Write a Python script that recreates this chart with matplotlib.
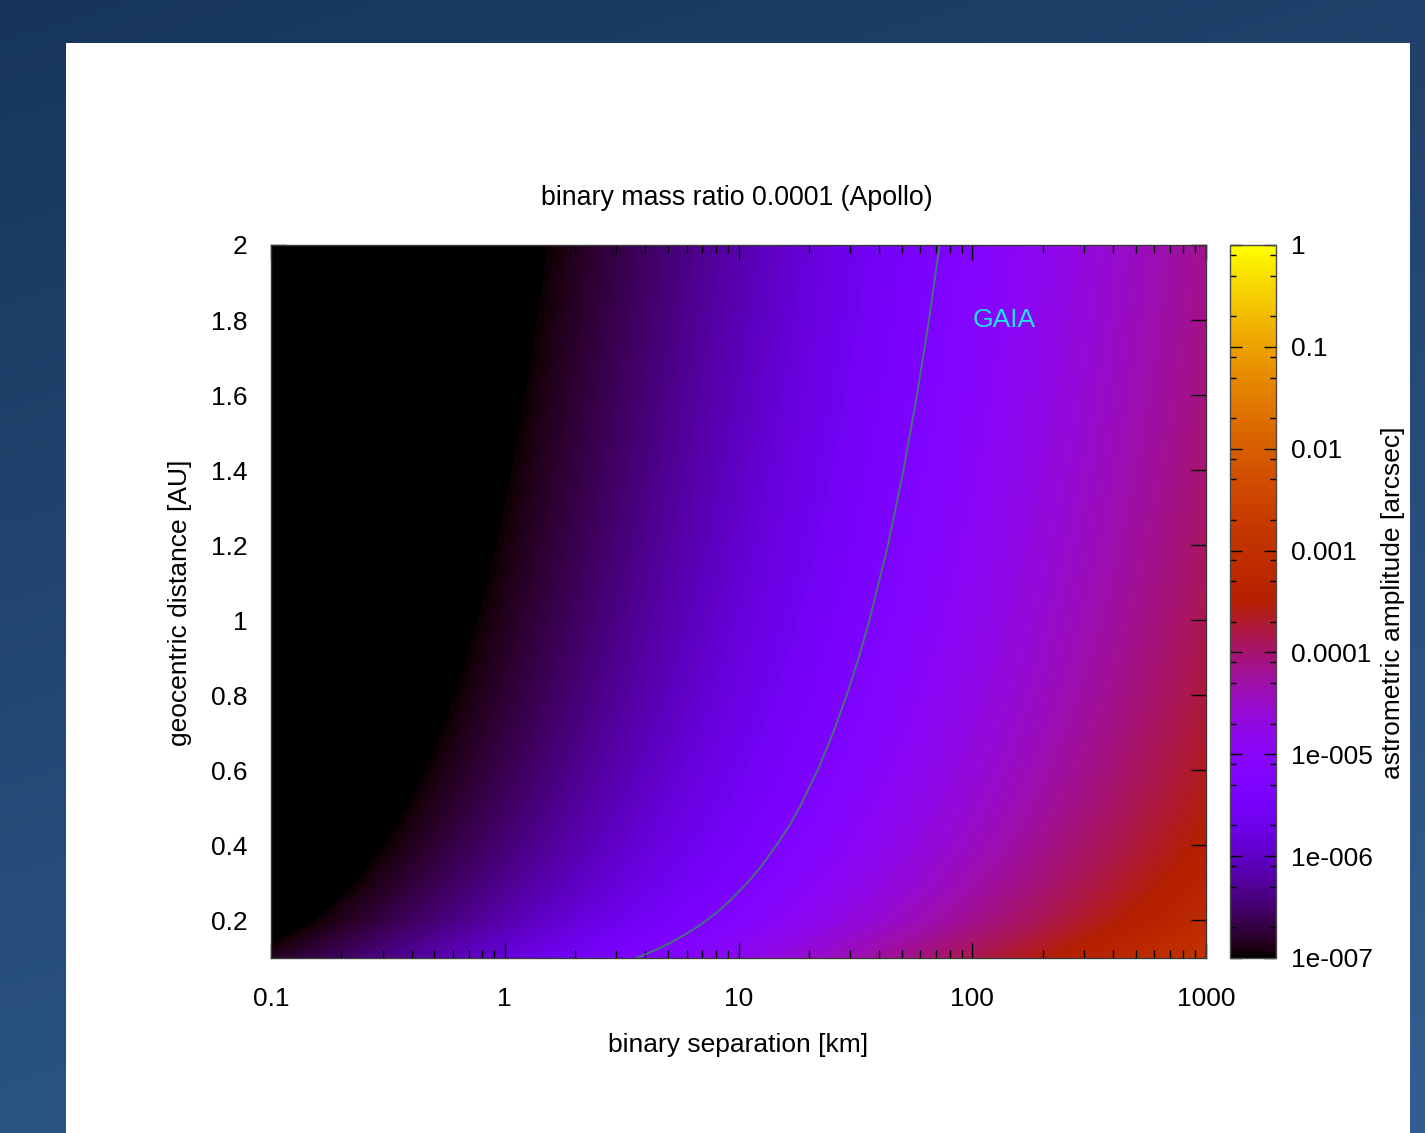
import numpy as np
import matplotlib
matplotlib.use('Agg')
import matplotlib.pyplot as plt
from matplotlib.colors import LogNorm, Normalize
from matplotlib.cm import ScalarMappable
from matplotlib.patches import Rectangle
from matplotlib.ticker import LogLocator, NullFormatter

plt.rcParams['font.family'] = ['Liberation Sans', 'DejaVu Sans']

# ---------------- data ----------------
separation_km = [0.1, 1, 10, 100, 1000]
distance_au = [0.1, 0.2, 0.3, 0.4, 0.5, 0.6, 0.7, 0.8, 0.9, 1.0,
               1.1, 1.2, 1.3, 1.4, 1.5, 1.6, 1.7, 1.8, 1.9, 2.0]
# astrometric amplitude [arcsec], rows = distance, columns = separation
amplitude_arcsec = [
    [1.38e-7, 1.38e-6, 1.38e-5, 1.38e-4, 1.38e-3],
    [6.89e-8, 6.89e-7, 6.89e-6, 6.89e-5, 6.89e-4],
    [4.60e-8, 4.60e-7, 4.60e-6, 4.60e-5, 4.60e-4],
    [3.45e-8, 3.45e-7, 3.45e-6, 3.45e-5, 3.45e-4],
    [2.76e-8, 2.76e-7, 2.76e-6, 2.76e-5, 2.76e-4],
    [2.30e-8, 2.30e-7, 2.30e-6, 2.30e-5, 2.30e-4],
    [1.97e-8, 1.97e-7, 1.97e-6, 1.97e-5, 1.97e-4],
    [1.72e-8, 1.72e-7, 1.72e-6, 1.72e-5, 1.72e-4],
    [1.53e-8, 1.53e-7, 1.53e-6, 1.53e-5, 1.53e-4],
    [1.38e-8, 1.38e-7, 1.38e-6, 1.38e-5, 1.38e-4],
    [1.25e-8, 1.25e-7, 1.25e-6, 1.25e-5, 1.25e-4],
    [1.15e-8, 1.15e-7, 1.15e-6, 1.15e-5, 1.15e-4],
    [1.06e-8, 1.06e-7, 1.06e-6, 1.06e-5, 1.06e-4],
    [9.85e-9, 9.85e-8, 9.85e-7, 9.85e-6, 9.85e-5],
    [9.19e-9, 9.19e-8, 9.19e-7, 9.19e-6, 9.19e-5],
    [8.62e-9, 8.62e-8, 8.62e-7, 8.62e-6, 8.62e-5],
    [8.11e-9, 8.11e-8, 8.11e-7, 8.11e-6, 8.11e-5],
    [7.66e-9, 7.66e-8, 7.66e-7, 7.66e-6, 7.66e-5],
    [7.26e-9, 7.26e-8, 7.26e-7, 7.26e-6, 7.26e-5],
    [6.89e-9, 6.89e-8, 6.89e-7, 6.89e-6, 6.89e-5],
]

# GAIA detection limit curve
gaia_distance_au = [0.1, 0.11, 0.125, 0.14, 0.16, 0.18, 0.2, 0.225, 0.25, 0.3, 0.35,
                    0.4, 0.45, 0.5, 0.6, 0.7, 0.8, 0.9, 1.0, 1.2, 1.4, 1.6, 1.8, 2.0]
gaia_separation_km = [3.65, 4.0, 4.55, 5.1, 5.8, 6.55, 7.3, 8.2, 9.1, 10.9, 12.7,
                      14.5, 16.4, 18.2, 21.8, 25.4, 29.0, 32.7, 36.3, 43.6, 50.8,
                      58.0, 65.3, 72.5]

x_ticks = [0.1, 1, 10, 100, 1000]
x_tick_labels = ['0.1', '1', '10', '100', '1000']
y_ticks = [0.2, 0.4, 0.6, 0.8, 1.0, 1.2, 1.4, 1.6, 1.8, 2.0]
y_tick_labels = ['0.2', '0.4', '0.6', '0.8', '1', '1.2', '1.4', '1.6', '1.8', '2']
cb_ticks = [1e-7, 1e-6, 1e-5, 1e-4, 1e-3, 1e-2, 1e-1, 1]
cb_tick_labels = ['1e-007', '1e-006', '1e-005', '0.0001', '0.001', '0.01', '0.1', '1']

title = 'binary mass ratio 0.0001 (Apollo)'
xlabel = 'binary separation [km]'
ylabel = 'geocentric distance [AU]'
cblabel = 'astrometric amplitude [arcsec]'

# ---------------- figure ----------------
W, H = 1425, 1133
fig = plt.figure(figsize=(W / 100, H / 100), dpi=100)


def rect(l, t, r, b):
    return [l / W, 1 - b / H, (r - l) / W, (b - t) / H]


# background gradient + white panel
ax_bg = fig.add_axes([0, 0, 1, 1], zorder=-5)
gy, gx = np.mgrid[0:1:200j, 0:1:200j]
tt = 0.72 * gy + 0.28 * gx
c0 = np.array([23, 53, 91]) / 255
c1 = np.array([50, 95, 146]) / 255
ax_bg.imshow(c0 + (c1 - c0) * tt[..., None], extent=[0, 1, 0, 1], aspect='auto',
             origin='upper', interpolation='bilinear')
ax_bg.add_patch(Rectangle((66 / W, 0), (1410 - 66) / W, 1 - 43 / H,
                          transform=ax_bg.transAxes, facecolor='white',
                          edgecolor='none', zorder=3))
ax_bg.set_xlim(0, 1)
ax_bg.set_ylim(0, 1)
ax_bg.axis('off')

FS = 19
CMAP = 'gnuplot'
cb_norm = LogNorm(vmin=1e-7, vmax=1)
plot_rect = rect(271, 245, 1206, 958)

# heat map drawn on a linear axes in log10(separation) units, under the log axes
ax_img = fig.add_axes(plot_rect, zorder=0)
log_amp = np.log10(np.array(amplitude_arcsec))
sx = np.log10(separation_km)
dx = (sx[1] - sx[0]) / 2
dy = (distance_au[1] - distance_au[0]) / 2
ax_img.imshow(log_amp, origin='lower', aspect='auto', cmap=CMAP,
              norm=Normalize(vmin=-7, vmax=0),
              extent=[sx[0] - dx, sx[-1] + dx,
                      distance_au[0] - dy, distance_au[-1] + dy],
              interpolation='bilinear', interpolation_stage='data')
ax_img.set_xlim(sx[0], sx[-1])
ax_img.set_ylim(0.1, 2.0)
ax_img.axis('off')

ax = fig.add_axes(plot_rect, zorder=1)
ax.patch.set_alpha(0)
ax.set_xscale('log')
ax.set_xlim(0.1, 1000)
ax.set_ylim(0.1, 2.0)
ax.plot(gaia_separation_km, gaia_distance_au, color='#47707e', lw=1.4)
ax.text(100, 1.8, 'GAIA', color='#22dff2', fontsize=FS, ha='left', va='center')

ax.set_xticks(x_ticks)
ax.set_xticklabels(x_tick_labels)
ax.xaxis.set_minor_locator(LogLocator(base=10, subs=np.arange(2, 10)))
ax.xaxis.set_minor_formatter(NullFormatter())
ax.set_yticks(y_ticks)
ax.set_yticklabels(y_tick_labels)
ax.tick_params(which='both', direction='in', top=True, right=True, color='black',
               width=1, labelsize=FS)
ax.tick_params(which='major', length=10.8)
ax.tick_params(which='minor', length=5.8)
ax.tick_params(axis='x', pad=21)
ax.tick_params(axis='y', pad=17)
for s in ax.spines.values():
    s.set_color('#3a3a3a')
    s.set_linewidth(1)

# colorbar
cax = fig.add_axes(rect(1230, 245, 1276, 958))
cb = fig.colorbar(ScalarMappable(norm=cb_norm, cmap=CMAP), cax=cax)
cb.set_ticks(cb_ticks)
cb.set_ticklabels(cb_tick_labels)
cax.yaxis.set_minor_locator(LogLocator(base=10, subs=[2, 5, 8]))
cax.yaxis.set_minor_formatter(NullFormatter())
cax.tick_params(which='both', direction='in', left=True, right=True,
                labelleft=False, labelright=True, color='black', width=1,
                labelsize=FS, pad=11)
cax.tick_params(which='major', length=8.6)
cax.tick_params(which='minor', length=4.3)
cb.outline.set_edgecolor('#4a4a4a')
cb.outline.set_linewidth(1)

fig.text(737 / W, 1 - 198 / H, title, fontsize=19.3, ha='center', va='center')
fig.text(738 / W, 1 - 1045 / H, xlabel, fontsize=FS, ha='center', va='center')
fig.text(180 / W, 1 - 603 / H, ylabel, fontsize=FS, ha='center', va='center',
         rotation=90)
fig.text(1393 / W, 1 - 603 / H, cblabel, fontsize=FS, ha='center', va='center',
         rotation=90)

fig.savefig('out.png', dpi=100)
